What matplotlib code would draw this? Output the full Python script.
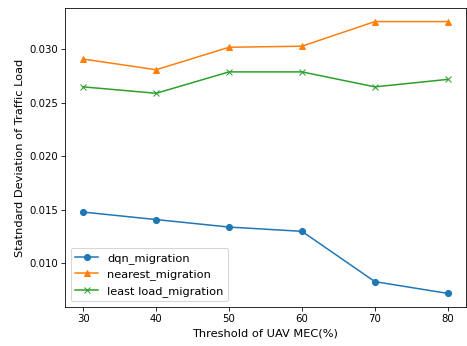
import matplotlib
matplotlib.use("Agg")
import matplotlib.pyplot as plt

thresholds = [30, 40, 50, 60, 70, 80]
dqn = [0.0148, 0.0141, 0.0134, 0.0130, 0.0083, 0.0072]
nearest = [0.0291, 0.0281, 0.0302, 0.0303, 0.0326, 0.0326]
least_load = [0.0265, 0.0259, 0.0279, 0.0279, 0.0265, 0.0272]

fig = plt.figure(figsize=(467/73, 346/73), dpi=73)
ax = fig.add_axes([65/467, 1-307/346, (466-65)/467, (307-8)/346])
ax.plot(thresholds, dqn, marker='o', label='dqn_migration')
ax.plot(thresholds, nearest, marker='^', label='nearest_migration')
ax.plot(thresholds, least_load, marker='x', label='least load_migration')
ax.set_xlabel('Threshold of UAV MEC(%)', fontsize=11.2)
ax.set_ylabel('Statndard Deviation of Traffic Load', fontsize=11.2)
ax.legend(loc='lower left', fontsize=11.2)
fig.savefig('out.png', dpi=73)
